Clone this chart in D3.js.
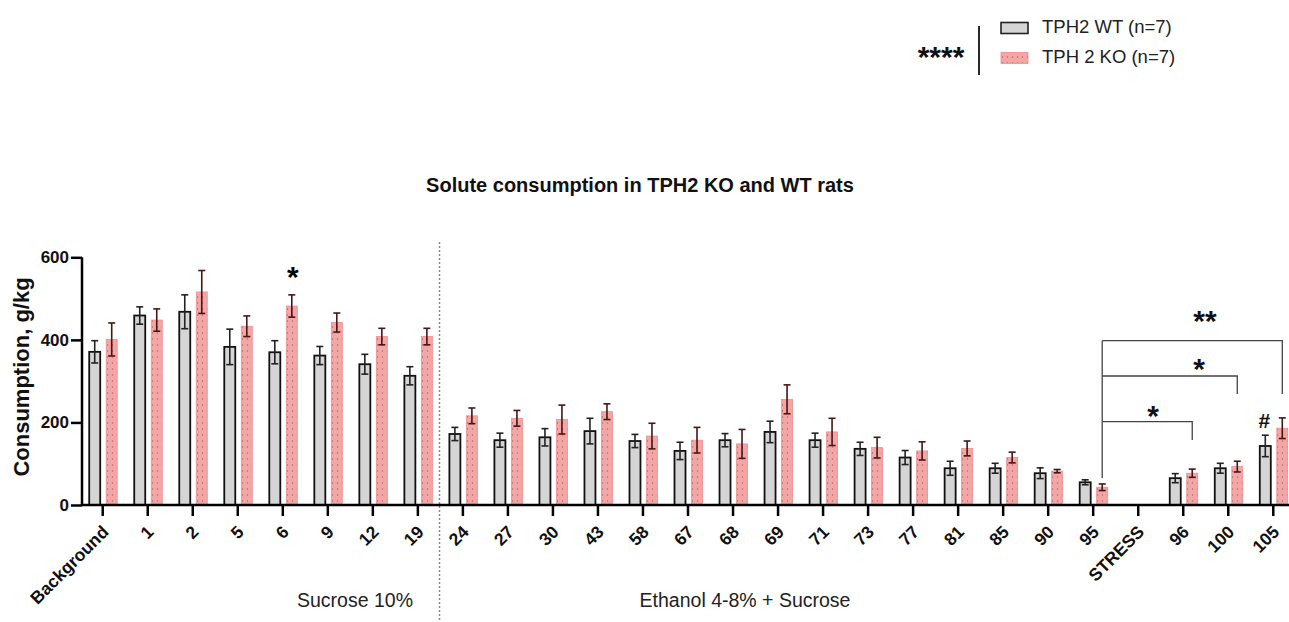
<!DOCTYPE html>
<html>
<head>
<meta charset="utf-8">
<script src="https://cdn.jsdelivr.net/npm/d3@7"></script>
<style>
  body { margin: 0; background: #fff; }
  text { font-family: Arial, "Liberation Sans", sans-serif; }
</style>
</head>
<body>
<div id="chart"></div>
<script>
// days of the experiment
const categories = ["Background", "1", "2", "5", "6", "9", "12", "19", "24", "27", "30", "43", "58",
  "67", "68", "69", "71", "73", "77", "81", "85", "90", "95", "STRESS", "96", "100", "105"];

// mean consumption, g/kg (null = no measurement)
const wtMean = [371, 459, 468, 383, 370, 362, 341, 313, 172, 157, 164, 179, 155,
  131, 157, 177, 157, 136, 115, 89, 89, 77, 55, null, 65, 89, 143];
const wtErr = [27, 21, 41, 43, 28, 22, 24, 22, 16, 17, 21, 31, 16,
  21, 16, 26, 17, 16, 17, 17, 12, 13, 6, null, 11, 12, 26];
const koMean = [401, 448, 516, 433, 482, 442, 408, 408, 216, 210, 207, 226, 167,
  157, 148, 256, 177, 139, 131, 137, 115, 82, 43, null, 77, 93, 186];
const koErr = [40, 27, 52, 25, 27, 23, 20, 20, 19, 19, 35, 19, 31,
  31, 35, 35, 33, 25, 22, 18, 13, 4, 8, null, 10, 13, 25];

const yTicks = [0, 200, 400, 600];
const groupLabels = [
  { text: "Sucrose 10%", cx: 355 },
  { text: "Ethanol 4-8% + Sucrose", cx: 745 }
];

const width = 1289, height = 622;
const svg = d3.select("#chart").append("svg")
  .attr("width", width)
  .attr("height", height);

const x = d3.scaleBand()
  .domain(categories)
  .range([80.2, 1295.8]);

const y = d3.scaleLinear()
  .domain([0, 600])
  .range([505, 257.3]);

// dotted fill for KO bars
const defs = svg.append("defs");
const pat = defs.append("pattern")
  .attr("id", "dots")
  .attr("patternUnits", "userSpaceOnUse")
  .attr("width", 5).attr("height", 6);
pat.append("rect").attr("width", 5).attr("height", 6).attr("fill", "#f3a6a6");
pat.append("circle").attr("cx", 2.5).attr("cy", 3).attr("r", 0.7).attr("fill", "#b56060");

// title
svg.append("text")
  .attr("x", 640).attr("y", 192)
  .attr("text-anchor", "middle")
  .attr("font-size", 20).attr("font-weight", "bold").attr("fill", "#111")
  .text("Solute consumption in TPH2 KO and WT rats");

// y axis
const yAxis = svg.append("g")
  .attr("transform", "translate(82,0)")
  .call(d3.axisLeft(y).tickValues(yTicks).tickSize(11).tickPadding(2));
yAxis.select(".domain").attr("stroke-width", 2.5).attr("d", `M0,${y(600)}V${y(0)}`);
yAxis.selectAll(".tick line").attr("stroke-width", 2.5);
yAxis.selectAll(".tick text").attr("font-size", 17).attr("font-weight", "bold").attr("fill", "#111");

svg.append("text")
  .attr("transform", "translate(29,377) rotate(-90)")
  .attr("text-anchor", "middle")
  .attr("font-size", 22).attr("font-weight", "bold").attr("fill", "#111")
  .text("Consumption, g/kg");

// divider between phases
svg.append("line")
  .attr("x1", 439.5).attr("x2", 439.5)
  .attr("y1", 242).attr("y2", 620)
  .attr("stroke", "#888").attr("stroke-width", 1.5)
  .attr("stroke-dasharray", "2,2");

const data = categories.map((c, i) => ({
  cat: c, wt: wtMean[i], wtE: wtErr[i], ko: koMean[i], koE: koErr[i]
}));

const barW = 11;
const cx = d => x(d.cat) + x.bandwidth() / 2;

// WT bars
svg.append("g").selectAll("rect")
  .data(data.filter(d => d.wt != null))
  .join("rect")
  .attr("x", d => cx(d) - 13.5)
  .attr("y", d => y(d.wt))
  .attr("width", barW)
  .attr("height", d => y(0) - y(d.wt))
  .attr("fill", "#d5d5d5")
  .attr("stroke", "#111")
  .attr("stroke-width", 1.8);

// KO bars
svg.append("g").selectAll("rect")
  .data(data.filter(d => d.ko != null))
  .join("rect")
  .attr("x", d => cx(d) + 3.5)
  .attr("y", d => y(d.ko))
  .attr("width", barW)
  .attr("height", d => y(0) - y(d.ko))
  .attr("fill", "url(#dots)")
  .attr("stroke", "#eb9090")
  .attr("stroke-width", 0.8);

// error bars
function errBars(key, errKey, off, color) {
  const g = svg.append("g").attr("stroke", color).attr("stroke-width", 1.6);
  const rows = data.filter(d => d[key] != null);
  g.selectAll(".v").data(rows).join("line")
    .attr("x1", d => cx(d) + off).attr("x2", d => cx(d) + off)
    .attr("y1", d => y(d[key] + d[errKey])).attr("y2", d => y(d[key] - d[errKey]));
  g.selectAll(".t").data(rows).join("line")
    .attr("x1", d => cx(d) + off - 3.5).attr("x2", d => cx(d) + off + 3.5)
    .attr("y1", d => y(d[key] + d[errKey])).attr("y2", d => y(d[key] + d[errKey]));
  g.selectAll(".b").data(rows).join("line")
    .attr("x1", d => cx(d) + off - 3.5).attr("x2", d => cx(d) + off + 3.5)
    .attr("y1", d => y(d[key] - d[errKey])).attr("y2", d => y(d[key] - d[errKey]));
}
errBars("wt", "wtE", -8, "#222");
errBars("ko", "koE", 9, "#4a1515");

// x axis
const xAxis = svg.append("g")
  .attr("transform", `translate(0,${y(0)})`)
  .call(d3.axisBottom(x).tickSize(11).tickPadding(4));
xAxis.select(".domain").attr("stroke-width", 2.5).attr("d", "M82,0H1289");
xAxis.selectAll(".tick line").attr("stroke-width", 2.5);
xAxis.selectAll(".tick text")
  .attr("font-size", 17.5).attr("font-weight", "bold").attr("fill", "#111")
  .attr("text-anchor", "end")
  .attr("x", 0).attr("y", 0).attr("dy", 0)
  .attr("transform", "translate(7,28) rotate(-45)");

// phase labels
groupLabels.forEach(gl => {
  svg.append("text")
    .attr("x", gl.cx)
    .attr("y", 607)
    .attr("text-anchor", "middle")
    .attr("font-size", 19.5).attr("fill", "#222")
    .text(gl.text);
});

// significance marks
const star6 = data.find(d => d.cat === "6");
svg.append("text")
  .attr("x", cx(star6) + 10).attr("y", 287)
  .attr("text-anchor", "middle").attr("font-size", 30).attr("font-weight", "bold")
  .text("*");

const d95 = data.find(d => d.cat === "95");
const bx = cx(d95) + 9;
const brackets = [
  { to: "96", yTop: 421.7, yEnd: 440, label: "*", lx: 1153, ly: 426 },
  { to: "100", yTop: 376, yEnd: 394, label: "*", lx: 1199, ly: 379 },
  { to: "105", yTop: 340.7, yEnd: 394, label: "**", lx: 1205, ly: 331 }
];
brackets.forEach(b => {
  const ex = cx(data.find(d => d.cat === b.to)) + 9;
  svg.append("path")
    .attr("d", `M${bx},${b.yTop}H${ex}V${b.yEnd}`)
    .attr("fill", "none").attr("stroke", "#444").attr("stroke-width", 1.3);
  svg.append("text")
    .attr("x", b.lx).attr("y", b.ly)
    .attr("text-anchor", "middle").attr("font-size", 30).attr("font-weight", "bold")
    .attr("fill", "#111")
    .text(b.label);
});
svg.append("line")
  .attr("x1", bx).attr("x2", bx)
  .attr("y1", 340.7).attr("y2", y(d95.ko + d95.koE) - 6)
  .attr("stroke", "#444").attr("stroke-width", 1.3);

const d105 = data.find(d => d.cat === "105");
svg.append("text")
  .attr("x", cx(d105) - 9).attr("y", 428)
  .attr("text-anchor", "middle").attr("font-size", 21).attr("font-weight", "bold")
  .attr("fill", "#111")
  .text("#");

// legend
const lg = svg.append("g");
lg.append("text").attr("x", 941).attr("y", 67).attr("text-anchor", "middle")
  .attr("font-size", 30).attr("font-weight", "bold").attr("fill", "#111").text("****");
lg.append("line").attr("x1", 979).attr("x2", 979).attr("y1", 26).attr("y2", 75)
  .attr("stroke", "#111").attr("stroke-width", 1.8);
lg.append("rect").attr("x", 1001).attr("y", 22.5).attr("width", 27).attr("height", 11)
  .attr("fill", "#d5d5d5").attr("stroke", "#222").attr("stroke-width", 1.6);
lg.append("text").attr("x", 1042).attr("y", 33).attr("font-size", 18.5).attr("fill", "#222")
  .text("TPH2 WT (n=7)");
lg.append("rect").attr("x", 1001).attr("y", 52.5).attr("width", 27).attr("height", 11)
  .attr("fill", "url(#dots)").attr("stroke", "#eb9090").attr("stroke-width", 0.8);
lg.append("text").attr("x", 1042).attr("y", 63).attr("font-size", 18.5).attr("fill", "#222")
  .text("TPH 2 KO (n=7)");
</script>
</body>
</html>
